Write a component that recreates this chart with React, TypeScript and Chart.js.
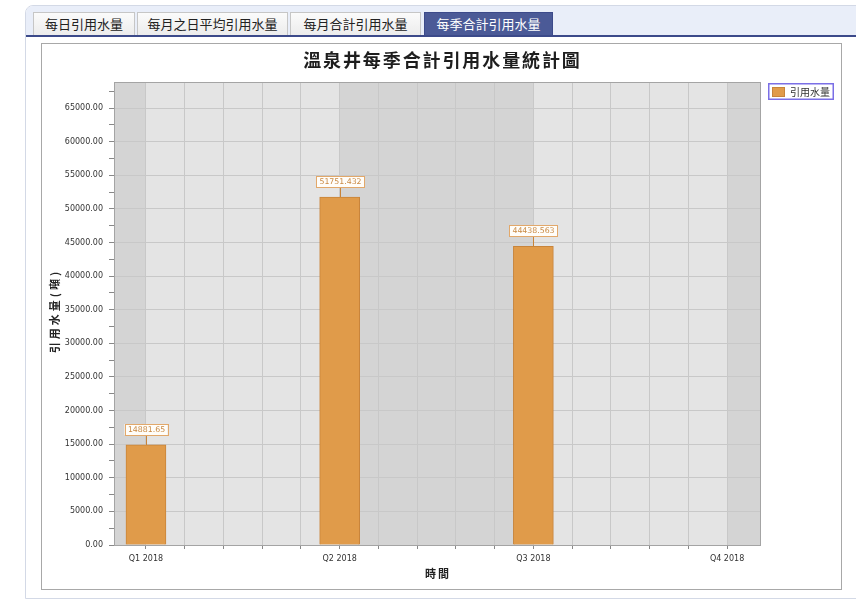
import React, { useEffect, useRef } from "react";
import { Chart, registerables } from "chart.js";

Chart.register(...registerables);

const tabLabels = ["每日引用水量", "每月之日平均引用水量", "每月合計引用水量", "每季合計引用水量"];
const quarterLabels = ["Q1 2018", "Q2 2018", "Q3 2018", "Q4 2018"];
const quarterIndex = [0, 1, 2, 3];
const waterValues: (number | null)[] = [14881.65, 51751.432, 44438.563, null];
const valueLabels = ["14881.65", "51751.432", "44438.563", ""];
const seriesName = "引用水量";
const chartTitle = "溫泉井每季合計引用水量統計圖";
const yTitle = "引用水量(噸)";
const xTitle = "時間";
const yMax = 68870;
const yTickStep = 2500;
const yLabelStep = 5000;
const yTickValues = Array.from({ length: Math.floor(yMax / yTickStep) + 1 }, (_, i) => i * yTickStep);

const tabBoxes = [
  { left: 7, width: 102 },
  { left: 111, width: 151 },
  { left: 264, width: 131 },
  { left: 398, width: 129 },
];

const ORANGE = "#e09b4a";
const ORANGE_DARK = "#c8843a";
const CJK = "'Noto Sans CJK TC'";

function spacedText(ctx: any, text: string, cx: number, cy: number, spacing: number) {
  ctx.letterSpacing = spacing + "px";
  const w = ctx.measureText(text).width - spacing;
  ctx.textAlign = "left";
  ctx.textBaseline = "middle";
  ctx.fillText(text, cx - w / 2, cy);
  ctx.letterSpacing = "0px";
}

const decorPlugin = {
  id: "decor",
  beforeDraw(chart: any) {
    const { ctx, chartArea, scales } = chart;
    const xs = scales.x;
    ctx.save();
    ctx.fillStyle = "#e4e4e4";
    ctx.fillRect(chartArea.left, chartArea.top, chartArea.right - chartArea.left, chartArea.bottom - chartArea.top);
    for (let i = -1; i <= 3; i++) {
      if (Math.abs(i % 2) !== 1) continue;
      const a = Math.max(chartArea.left, xs.getPixelForValue(i));
      const b = Math.min(chartArea.right, xs.getPixelForValue(i + 1));
      if (b > a) {
        ctx.fillStyle = "#d4d4d4";
        ctx.fillRect(a, chartArea.top, b - a, chartArea.bottom - chartArea.top);
      }
    }
    ctx.restore();
  },
  afterDraw(chart: any) {
    const { ctx, chartArea, width } = chart;
    ctx.save();
    // plot border
    ctx.strokeStyle = "#a4a4a4";
    ctx.lineWidth = 1;
    ctx.strokeRect(Math.round(chartArea.left) + 0.5, Math.round(chartArea.top) + 0.5,
      Math.round(chartArea.right - chartArea.left), Math.round(chartArea.bottom - chartArea.top));

    // chart title
    ctx.fillStyle = "#1e1e1e";
    ctx.font = `bold 18px ${CJK}`;
    spacedText(ctx, chartTitle, width / 2, 16, 1.9);

    // x title
    ctx.font = `bold 11px ${CJK}`;
    ctx.fillStyle = "#222";
    spacedText(ctx, xTitle, (chartArea.left + chartArea.right) / 2, 530, 2);

    // y title
    ctx.save();
    ctx.translate(13, (chartArea.top + chartArea.bottom) / 2 - 1);
    ctx.rotate(-Math.PI / 2);
    ctx.font = `bold 11px ${CJK}`;
    spacedText(ctx, yTitle, 0, 0, 3);
    ctx.restore();

    // legend
    const ds = chart.data.datasets[0];
    const x0 = Math.round(chartArea.right) + 8;
    const y0 = Math.round(chartArea.top) + 1;
    ctx.font = `10px ${CJK}`;
    const tw = ctx.measureText(ds.label).width;
    const w = Math.round(22 + tw + 4);
    const h = 17;
    ctx.fillStyle = "#fff";
    ctx.fillRect(x0, y0, w, h);
    ctx.strokeStyle = "#7b6fe6";
    ctx.lineWidth = 1.5;
    ctx.strokeRect(x0 + 0.75, y0 + 0.75, w - 1.5, h - 1.5);
    ctx.fillStyle = ds.backgroundColor;
    ctx.fillRect(x0 + 4, y0 + 4, 13, 10);
    ctx.strokeStyle = ds.borderColor;
    ctx.lineWidth = 1;
    ctx.strokeRect(x0 + 4.5, y0 + 4.5, 12, 9);
    ctx.fillStyle = "#333";
    ctx.textAlign = "left";
    ctx.textBaseline = "middle";
    ctx.fillText(ds.label, x0 + 22, y0 + h / 2 + 0.5);
    ctx.restore();
  },
};

const valueLabelPlugin = {
  id: "valueLabels",
  afterDatasetsDraw(chart: any) {
    const { ctx } = chart;
    const meta = chart.getDatasetMeta(0);
    ctx.save();
    ctx.font = "7.8px 'DejaVu Sans'";
    ctx.textAlign = "center";
    ctx.textBaseline = "middle";
    meta.data.forEach((el: any, i: number) => {
      const v = waterValues[i];
      if (v === null || v === undefined) return;
      const text = valueLabels[i];
      const x = Math.round(el.x);
      const top = Math.round(el.y);
      const w = Math.ceil(ctx.measureText(text).width) + 5;
      const h = 11;
      const bottom = top - 10;
      ctx.strokeStyle = ORANGE_DARK;
      ctx.lineWidth = 1;
      ctx.beginPath();
      ctx.moveTo(x + 0.5, bottom);
      ctx.lineTo(x + 0.5, top);
      ctx.stroke();
      ctx.fillStyle = "#fffdf9";
      ctx.fillRect(x - w / 2, bottom - h, w, h);
      ctx.strokeStyle = "#e2a86a";
      ctx.strokeRect(Math.round(x - w / 2) + 0.5, bottom - h + 0.5, w, h);
      ctx.fillStyle = "#c98a45";
      ctx.fillText(text, x + 0.5, bottom - h / 2 + 0.5);
    });
    ctx.restore();
  },
};

function ChartCanvas() {
  const ref = useRef<HTMLCanvasElement | null>(null);
  useEffect(() => {
    if (!ref.current) return;
    const tickFont = { family: "'DejaVu Sans'", size: 8 };
    const chart = new Chart(ref.current, {
      type: "bar",
      data: {
        datasets: [
          {
            label: seriesName,
            data: quarterIndex.map((q, i) => ({ x: q, y: waterValues[i] })) as any,
            backgroundColor: ORANGE,
            borderColor: ORANGE_DARK,
            borderWidth: 1,
            barThickness: 40,
          },
        ],
      },
      options: {
        responsive: false,
        animation: false,
        layout: { padding: { left: 0, right: 81, top: 38, bottom: 0 } },
        plugins: {
          title: { display: false },
          legend: { display: false },
          tooltip: { enabled: false },
        },
        scales: {
          x: {
            type: "linear",
            min: -0.165,
            max: 3.17,
            offset: false,
            ticks: {
              stepSize: 0.2,
              includeBounds: false,
              autoSkip: false,
              maxRotation: 0,
              color: "#333",
              font: tickFont,
              padding: 5,
              callback: (v: any) => {
                const r = Math.round(v);
                return Math.abs(v - r) < 1e-6 && r >= 0 && r < quarterLabels.length ? quarterLabels[r] : "";
              },
            },
            grid: { offset: false, color: "#c8c8c8", tickColor: "#888", tickLength: 4 },
            border: { display: false },
            afterFit: (s: any) => { s.height = 44; },
          },
          y: {
            min: 0,
            max: yMax,
            afterBuildTicks: (s: any) => { s.ticks = yTickValues.map((v) => ({ value: v })); },
            ticks: {
              autoSkip: false,
              color: "#333",
              font: tickFont,
              padding: 6,
              callback: (v: any) => (Math.round(v) % yLabelStep === 0 ? Number(v).toFixed(2) : ""),
            },
            grid: {
              color: (c: any) => (c.tick && Math.round(c.tick.value) % yLabelStep === 0 ? "#c8c8c8" : "rgba(0,0,0,0)"),
              tickColor: "#888",
              tickLength: 5,
            },
            border: { display: false },
            afterFit: (s: any) => { s.width = 72; },
          },
        },
      },
      plugins: [decorPlugin, valueLabelPlugin],
    } as any);
    return () => chart.destroy();
  }, []);
  return <canvas ref={ref} width={799} height={545} style={{ display: "block", width: 799, height: 545 }} />;
}

export default function App() {
  return (
    <div style={{ position: "absolute", left: 0, top: 0, width: 856, height: 600, background: "#fff", overflow: "hidden", fontFamily: "'Noto Sans CJK TC', sans-serif" }}>
      <div style={{ position: "absolute", left: 25, top: 5, width: 850, height: 592, border: "1px solid #d3d9e6", borderTopLeftRadius: 8, background: "#fff", overflow: "hidden" }}>
        <div style={{ position: "absolute", left: 0, top: 0, right: 0, height: 29, background: "#e9eef9" }} />
        <div style={{ position: "absolute", left: 0, top: 29, right: 0, height: 2, background: "#3c4a8a" }} />
        {tabLabels.map((t, i) => {
          const active = i === tabLabels.length - 1;
          return (
            <div
              key={t}
              style={{
                position: "absolute",
                left: tabBoxes[i].left,
                top: 6,
                width: tabBoxes[i].width,
                height: 23,
                boxSizing: "border-box",
                border: active ? "1px solid #3c4a8a" : "1px solid #c6c6c6",
                borderBottom: "none",
                background: active ? "#4b5a97" : "linear-gradient(#fbfbfb, #ececec)",
                color: active ? "#fff" : "#222",
                fontSize: 13,
                lineHeight: "22px",
                textAlign: "center",
                whiteSpace: "nowrap",
              }}
            >
              {t}
            </div>
          );
        })}
      </div>
      <div style={{ position: "absolute", left: 41, top: 43, width: 799, height: 545, border: "1px solid #a8a8a8", background: "#fff" }}>
        <ChartCanvas />
      </div>
    </div>
  );
}
